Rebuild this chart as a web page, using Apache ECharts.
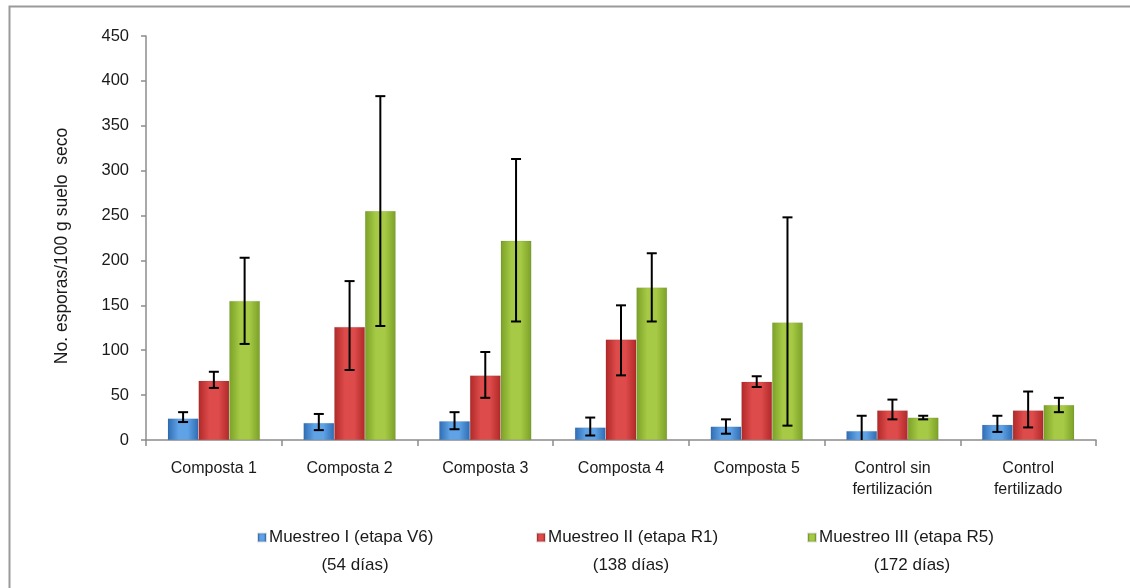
<!DOCTYPE html>
<html>
<head>
<meta charset="utf-8">
<script src="https://cdn.jsdelivr.net/npm/echarts@6/dist/echarts.min.js"></script>
<style>
html,body{margin:0;padding:0;background:#fff;}
#chart{width:1130px;height:588px;}
</style>
</head>
<body>
<div id="chart"></div>
<script>
// ---- data ----
var categories = ['Composta 1', 'Composta 2', 'Composta 3', 'Composta 4', 'Composta 5', 'Control sin\nfertilización', 'Control\nfertilizado'];
var seriesNames = ['Muestreo I (etapa V6)', 'Muestreo II (etapa R1)', 'Muestreo III (etapa R5)'];
var seriesSubtitles = ['(54 días)', '(138 días)', '(172 días)'];

var muestreoI = [24, 19, 21, 14, 15, 10, 17];
var muestreoILow = [20, 11, 12, 5, 7, -8, 9];
var muestreoIHigh = [31, 29, 31, 25, 23, 27, 27];

var muestreoII = [66, 126, 72, 112, 65, 33, 33];
var muestreoIILow = [58, 78, 47, 72, 59, 23, 14];
var muestreoIIHigh = [76, 177, 98, 150, 71, 45, 54];

var muestreoIII = [155, 255, 222, 170, 131, 25, 39];
var muestreoIIILow = [107, 127, 132, 132, 16, 23, 31];
var muestreoIIIHigh = [203, 383, 313, 208, 248, 27, 47];

var yTicks = [0, 50, 100, 150, 200, 250, 300, 350, 400, 450];
var yAxisName = 'No. esporas/100 g suelo  seco';

// ---- styling ----
var FONT = "'Liberation Sans', Arial, sans-serif";
var TXT = '#1a1a1a';
var AX = '#8c8c8c';
var gapPct = 32;

function grad(edge, mid) {
  return new echarts.graphic.LinearGradient(0, 0, 1, 0, [
    {offset: 0, color: edge},
    {offset: 0.35, color: mid},
    {offset: 0.65, color: mid},
    {offset: 1, color: edge}
  ]);
}
var colors = [
  grad('#2e6cb3', '#5fa2e6'),
  grad('#b02828', '#de4b4b'),
  grad('#7aa027', '#a6ca45')
];
var values = [muestreoI, muestreoII, muestreoIII];
var lows = [muestreoILow, muestreoIILow, muestreoIIILow];
var highs = [muestreoIHigh, muestreoIIHigh, muestreoIIIHigh];

var series = [];
values.forEach(function (vals, si) {
  series.push({
    name: seriesNames[si],
    type: 'bar',
    data: vals,
    barGap: '0%',
    barCategoryGap: gapPct + '%',
    itemStyle: {color: colors[si], borderColor: 'rgba(0,0,0,0.12)', borderWidth: 0.6},
    z: 2
  });
});
values.forEach(function (vals, si) {
  var errData = vals.map(function (v, ci) { return [ci, lows[si][ci], highs[si][ci]]; });
  series.push({
    type: 'custom',
    name: seriesNames[si] + ' err',
    z: 5,
    silent: true,
    data: errData,
    renderItem: function (params, api) {
      var ci = api.value(0);
      var lo = api.value(1), hi = api.value(2);
      var clipped = lo < 0;
      if (clipped) lo = 0;
      var band = api.size([1, 0])[0];
      var bw = band * (1 - gapPct / 100) / 3;
      var c = api.coord([ci, 0]);
      var x = c[0] + (si - 1) * bw;
      var yLo = api.coord([ci, lo])[1];
      var yHi = api.coord([ci, hi])[1];
      var cap = 5;
      var st = {stroke: '#000', lineWidth: 2};
      var children = [
        {type: 'line', shape: {x1: x, y1: yHi, x2: x, y2: yLo}, style: st},
        {type: 'line', shape: {x1: x - cap, y1: yHi, x2: x + cap, y2: yHi}, style: st}
      ];
      if (!clipped) children.push({type: 'line', shape: {x1: x - cap, y1: yLo, x2: x + cap, y2: yLo}, style: st});
      return {type: 'group', children: children};
    }
  });
});

var legendX = [257, 536, 807];
var legends = seriesNames.map(function (n, i) {
  return {
    data: [n],
    left: legendX[i],
    top: 529,
    padding: 0,
    itemWidth: 8,
    itemHeight: 8,
    itemGap: 0,
    icon: 'rect',
    selectedMode: false,
    textStyle: {fontFamily: FONT, fontSize: 17, color: TXT, padding: [0, 0, 0, -2]}
  };
});

var subX = [355, 631, 912];
var graphics = [
  {type: 'rect', left: 7, top: 4, shape: {width: 1200, height: 700}, style: {fill: 'none', stroke: '#9a9a9a', lineWidth: 2}, silent: true}
];
seriesSubtitles.forEach(function (t, i) {
  graphics.push({type: 'text', x: subX[i], y: 565, style: {text: t, fontFamily: FONT, fontSize: 17, fill: TXT, textAlign: 'center', textVerticalAlign: 'middle'}});
});

var chart = echarts.init(document.getElementById('chart'), null, {renderer: 'canvas'});
chart.setOption({
  animation: false,
  backgroundColor: '#fff',
  grid: {left: 146, right: 34, top: 36, bottom: 148, containLabel: false},
  legend: legends,
  graphic: graphics,
  xAxis: {
    type: 'category',
    data: categories,
    axisLine: {lineStyle: {color: AX, width: 1.5}},
    axisTick: {show: true, length: 6, lineStyle: {color: AX, width: 1.5}},
    axisLabel: {fontFamily: FONT, fontSize: 16, color: TXT, margin: 18, lineHeight: 21, interval: 0}
  },
  yAxis: {
    type: 'value',
    min: yTicks[0],
    max: yTicks[yTicks.length - 1],
    interval: yTicks[1] - yTicks[0],
    name: yAxisName,
    nameLocation: 'middle',
    nameGap: 75,
    nameTextStyle: {fontFamily: FONT, fontSize: 17.5, color: TXT, padding: [0, 16, 0, 0]},
    splitLine: {show: false},
    axisLine: {show: true, lineStyle: {color: AX, width: 1.5}},
    axisTick: {show: true, length: 5, lineStyle: {color: AX, width: 1.5}},
    axisLabel: {fontFamily: FONT, fontSize: 16.5, color: TXT, margin: 17}
  },
  series: series
});
</script>
</body>
</html>
